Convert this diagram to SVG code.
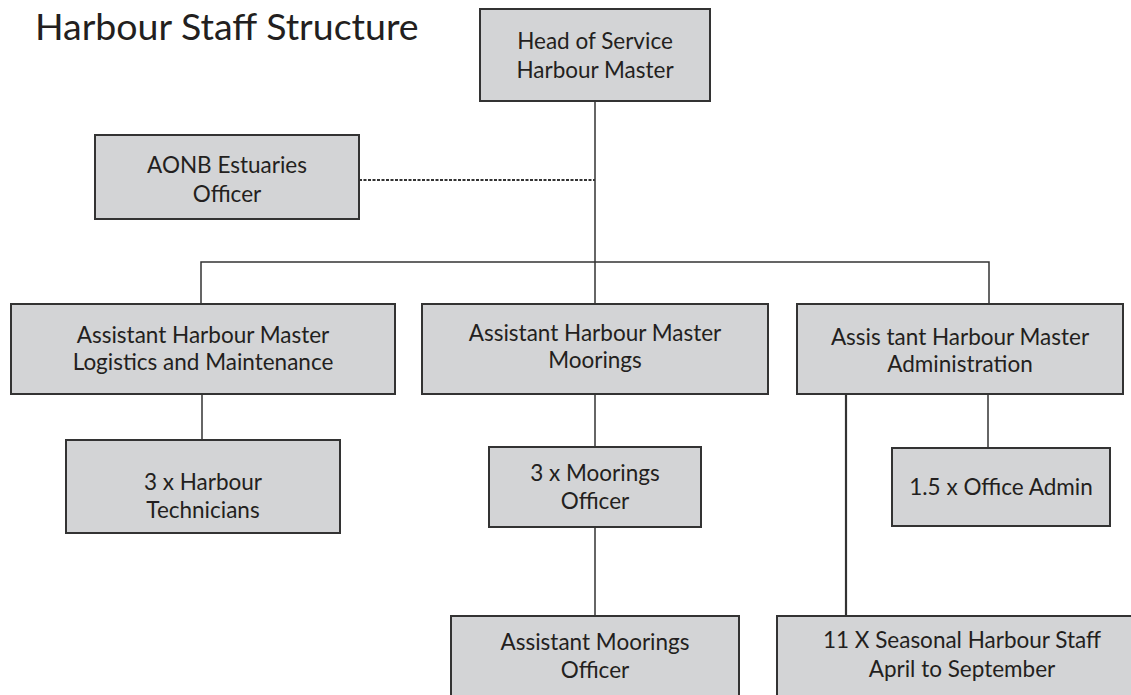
<svg xmlns="http://www.w3.org/2000/svg" width="1131" height="695" viewBox="0 0 1131 695">
<style>
.box{fill:#d3d4d6;stroke:#333;stroke-width:2}
.t{font-family:Lato,"Open Sans",sans-serif;font-size:22.5px;fill:#231f20;text-anchor:middle}
.c{stroke:#333;stroke-width:1.5;fill:none}
</style>
<rect width="1131" height="695" fill="#fff"/>
<text x="35" y="40" style="font-family:Lato,'Open Sans',sans-serif;font-size:37.5px;fill:#231f20">Harbour Staff Structure</text>
<g id="connectors">
<line class="c" x1="595" y1="101" x2="595" y2="304"/>
<line class="c" x1="359" y1="180" x2="595" y2="180" stroke-dasharray="3,1.5" style="stroke-width:1.8"/>
<polyline class="c" points="201,304 201,262 989,262 989,304"/>
<line class="c" x1="202" y1="394" x2="202" y2="440"/>
<line class="c" x1="595" y1="394" x2="595" y2="447"/>
<line class="c" x1="595" y1="527" x2="595" y2="616"/>
<line class="c" x1="988" y1="394" x2="988" y2="448"/>
<line class="c" x1="846" y1="394" x2="846" y2="616" style="stroke-width:2.2"/>
</g>
<g id="head"><rect class="box" x="480" y="9" width="230" height="92"/><text class="t" x="595" y="49">Head of Service</text><text class="t" x="595" y="78">Harbour Master</text></g>
<g id="aonb"><rect class="box" x="95" y="135" width="264" height="84"/><text class="t" x="227" y="173">AONB Estuaries</text><text class="t" x="227" y="202">Officer</text></g>
<g id="ahm-logistics"><rect class="box" x="11" y="304" width="384" height="90"/><text class="t" x="203" y="343">Assistant Harbour Master</text><text class="t" x="203" y="370">Logistics and Maintenance</text></g>
<g id="ahm-moorings"><rect class="box" x="422" y="304" width="346" height="90"/><text class="t" x="595" y="341">Assistant Harbour Master</text><text class="t" x="595" y="368">Moorings</text></g>
<g id="ahm-admin"><rect class="box" x="797" y="304" width="326" height="90"/><text class="t" x="960" y="345">Assis tant Harbour Master</text><text class="t" x="960" y="372">Administration</text></g>
<g id="technicians"><rect class="box" x="66" y="440" width="274" height="93"/><text class="t" x="203" y="490">3 x Harbour</text><text class="t" x="203" y="518">Technicians</text></g>
<g id="moorings-officer"><rect class="box" x="489" y="447" width="212" height="80"/><text class="t" x="595" y="481">3 x Moorings</text><text class="t" x="595" y="509">Officer</text></g>
<g id="office-admin"><rect class="box" x="892" y="448" width="218" height="78"/><text class="t" x="1001" y="495">1.5 x Office Admin</text></g>
<g id="asst-moorings"><rect class="box" x="451" y="616" width="288" height="90"/><text class="t" x="595" y="650">Assistant Moorings</text><text class="t" x="595" y="678">Officer</text></g>
<g id="seasonal"><rect class="box" x="777" y="616" width="370" height="90"/><text class="t" x="962" y="648">11 X Seasonal Harbour Staff</text><text class="t" x="962" y="677">April to September</text></g>
</svg>
